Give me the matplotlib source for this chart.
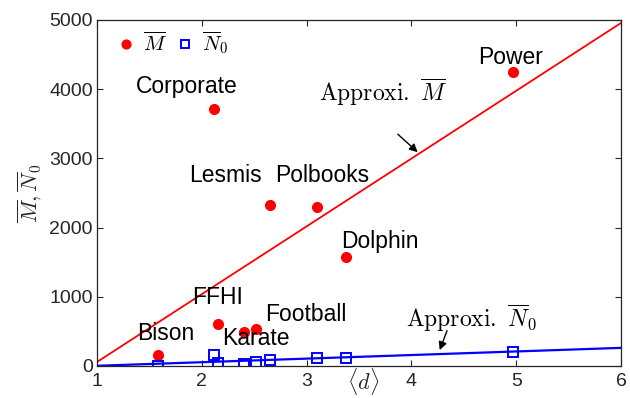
import matplotlib
matplotlib.use("Agg")
import matplotlib.pyplot as plt
import matplotlib.transforms as mtransforms
import numpy as np

# network data: average degree <d>, M-bar and N0-bar
networks = ["Bison", "Corporate", "FFHI", "Karate", "Football",
            "Lesmis", "Polbooks", "Dolphin", "Power"]
avg_deg = [1.58, 2.12, 2.15, 2.40, 2.52, 2.65, 3.10, 3.38, 4.97]
m_bar = [159, 3714, 607, 495, 535, 2327, 2298, 1575, 4249]
n0_bar = [5, 160, 40, 30, 55, 90, 115, 115, 200]

# approximation lines (end points)
fit_x = [1, 6]
fit_m = [58, 4957]
fit_n0 = [3, 262]

x_ticks = [1, 2, 3, 4, 5, 6]
y_ticks = [0, 1000, 2000, 3000, 4000, 5000]

# label positions (centre of text)
label_pos = {
    "Bison": (1.66, 470), "Corporate": (1.86, 4046), "FFHI": (2.15, 983),
    "Karate": (2.52, 395), "Football": (2.99, 737), "Lesmis": (2.23, 2760),
    "Polbooks": (3.15, 2760), "Dolphin": (3.70, 1806), "Power": (4.95, 4465),
}

plt.rcParams['mathtext.fontset'] = 'cm'
plt.rcParams['font.family'] = ['Liberation Sans', 'DejaVu Sans']
dark = '#262626'

fig = plt.figure(figsize=(6.3, 3.98), dpi=100)
ax = fig.add_axes([97 / 630, 32 / 398, 524 / 630, 346 / 398])

ax.plot(fit_x, fit_m, color='#ff0000', lw=1.3)
ax.plot(fit_x, fit_n0, color='#0000ff', lw=1.6)
ax.plot(avg_deg, m_bar, 'o', color='#ff0000', ms=7, ls='none', label=r'$\overline{M}$')
ax.plot(avg_deg, n0_bar, 's', mfc='none', mec='#0000ff', mew=1.4, ms=6.5,
        ls='none', label=r'$\overline{N}_0$')

for name in networks:
    lx, ly = label_pos[name]
    ax.text(lx, ly, name, ha='center', va='center', fontsize=16.5, color='black')

# approximation labels and arrows
ax.text(3.73, 3960, r'$\mathrm{Approxi.}\ \overline{M}$', ha='center', va='center', fontsize=17)
ax.annotate('', xy=(4.06, 3090), xytext=(3.87, 3350),
            arrowprops=dict(arrowstyle='-|>', color='black', lw=1, shrinkA=0, shrinkB=0,
                            mutation_scale=12))
ax.text(4.57, 694, r'$\mathrm{Approxi.}\ \overline{N}_0$', ha='center', va='center', fontsize=17)
ax.annotate('', xy=(4.27, 230), xytext=(4.34, 510),
            arrowprops=dict(arrowstyle='-|>', color='black', lw=1, shrinkA=0, shrinkB=0,
                            mutation_scale=12))

ax.set_xlim(1, 6)
ax.set_ylim(0, 5000)
ax.set_xticks(x_ticks)
ax.set_yticks(y_ticks)
ax.tick_params(direction='in', top=True, right=True, length=4, width=0.8,
               colors=dark, labelsize=14, labelcolor=dark)
ax.tick_params(axis='x', pad=5)
ax.tick_params(axis='y', pad=3)
for sp in ax.spines.values():
    sp.set_color(dark)
    sp.set_linewidth(0.9)

trans = mtransforms.blended_transform_factory(ax.transData, ax.transAxes)
ax.text(3.54, -0.045, r'$\langle d\rangle$', transform=trans, ha='center', va='center',
        fontsize=16, color=dark)
ax.set_ylabel(r'$\overline{M}, \overline{N}_0$', fontsize=16, color=dark, labelpad=4)

ax.legend(loc='upper left', bbox_to_anchor=(0.0, 1.02), ncol=2, frameon=False,
          fontsize=15, handletextpad=0.2, columnspacing=0.3, handlelength=1.2,
          borderaxespad=0.4, markerscale=0.9)

fig.savefig('out.png', dpi=100)
